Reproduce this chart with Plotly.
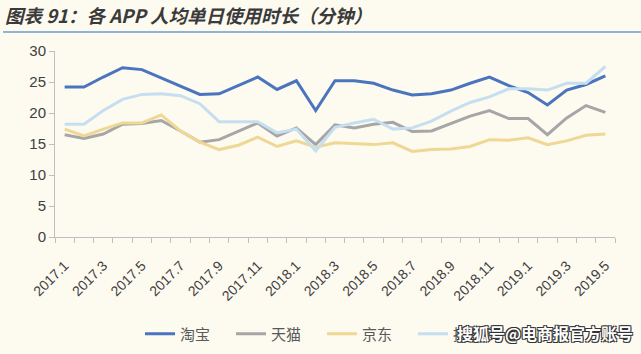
import plotly.graph_objects as go

months = ["2017.1","2017.2","2017.3","2017.4","2017.5","2017.6","2017.7","2017.8","2017.9","2017.10",
          "2017.11","2017.12","2018.1","2018.2","2018.3","2018.4","2018.5","2018.6","2018.7","2018.8",
          "2018.9","2018.10","2018.11","2018.12","2019.1","2019.2","2019.3","2019.4","2019.5"]

taobao = [24.2,24.2,25.8,27.3,27.0,25.7,24.4,23.0,23.1,24.4,25.8,23.8,25.2,20.4,25.2,25.2,24.8,23.7,22.9,23.1,
          23.7,24.8,25.8,24.4,23.3,21.3,23.7,24.6,26.0]
tmall = [16.5,15.9,16.6,18.2,18.3,18.8,17.1,15.3,15.7,17.1,18.4,16.3,17.6,14.9,18.1,17.6,18.2,18.5,17.0,17.1,
         18.3,19.5,20.4,19.1,19.1,16.5,19.2,21.2,20.1]
jd = [17.4,16.3,17.4,18.4,18.4,19.7,17.1,15.3,14.1,14.8,16.1,14.6,15.5,14.5,15.2,15.1,14.9,15.2,13.8,14.1,
      14.2,14.6,15.7,15.6,16.0,14.9,15.5,16.4,16.6]
pdd = [18.2,18.2,20.4,22.2,23.0,23.1,22.8,21.5,18.6,18.6,18.6,16.8,17.4,13.9,17.7,18.4,19.0,17.4,17.6,18.7,
       20.3,21.7,22.6,23.9,23.9,23.7,24.8,24.8,27.5]

series_names = ["淘宝", "天猫", "京东", "拼多多"]
series_vals = [taobao, tmall, jd, pdd]
colors = ["#4a74bd", "#a6a6a6", "#eed894", "#c6dff0"]
yticks = [0, 5, 10, 15, 20, 25, 30]

x = list(range(len(months)))
fig = go.Figure()
for name, vals, c in zip(series_names, series_vals, colors):
    fig.add_trace(go.Scatter(x=x, y=vals, name=name, mode="lines",
                             line=dict(color=c, width=3)))

W, H = 641, 354
L, R, T, B = 55, 26, 51, 117
pw, ph = W - L - R, H - T - B

def px_x(p):
    return (p - L) / pw

def px_y(p):
    return 1 - (p - T) / ph

bg = "#fdfaf0"
fig.update_layout(
    width=W, height=H,
    margin=dict(l=L, r=R, t=T, b=B, autoexpand=False),
    paper_bgcolor=bg, plot_bgcolor=bg,
    font=dict(family="Liberation Sans, Noto Sans CJK SC", color="#595959"),
    xaxis=dict(range=[-0.5, len(months) - 0.5], tickvals=x[::2], ticktext=months[::2],
               tickangle=-45, ticks="", showgrid=False, zeroline=False, automargin=False,
               showline=True, linecolor="#bfbfbf", linewidth=1, ticklabelstandoff=14,
               tickfont=dict(size=14, color="#404040"),
               minor=dict(tickvals=[i - 0.5 for i in range(len(months) + 1)], ticks="outside",
                          ticklen=5, tickcolor="#bfbfbf", showgrid=False)),
    yaxis=dict(range=[0, 30], tickvals=yticks, showgrid=False, zeroline=False, automargin=False,
               showline=True, linecolor="#bfbfbf", linewidth=1, ticks="outside",
               ticklen=5, tickcolor="#bfbfbf", tickfont=dict(size=15, color="#404040")),
    legend=dict(orientation="h", x=140 / W, y=1 - 334 / H, xref="container", yref="container",
                xanchor="left", yanchor="middle",
                font=dict(size=15, color="#595959", family="Noto Sans CJK SC"),
                entrywidth=46, entrywidthmode="pixels", bgcolor="rgba(0,0,0,0)"),
    showlegend=True,
)

fig.add_annotation(text="<b><i>图表 91：各 APP 人均单日使用时长（分钟）</i></b>",
                   xref="paper", yref="paper", x=px_x(3), y=px_y(15),
                   xanchor="left", yanchor="middle", showarrow=False,
                   font=dict(size=18.5, color="#3a3a3a", family="Noto Sans CJK SC"))
fig.add_shape(type="line", xref="paper", yref="paper", x0=px_x(3), x1=px_x(641),
              y0=px_y(32), y1=px_y(32), line=dict(color="#8fb4d6", width=2))
fig.add_annotation(text="<b>搜狐号@电商报官方账号</b>", xref="paper", yref="paper",
                   x=px_x(455), y=px_y(333), xanchor="left", yanchor="middle", showarrow=False,
                   font=dict(size=16, color="white", family="Noto Sans CJK SC",
                             shadow="-1px -1px 0 #333, 1px -1px 0 #333, -1px 1px 0 #333, 1px 1px 0 #333"))

fig.write_html("out.html")
